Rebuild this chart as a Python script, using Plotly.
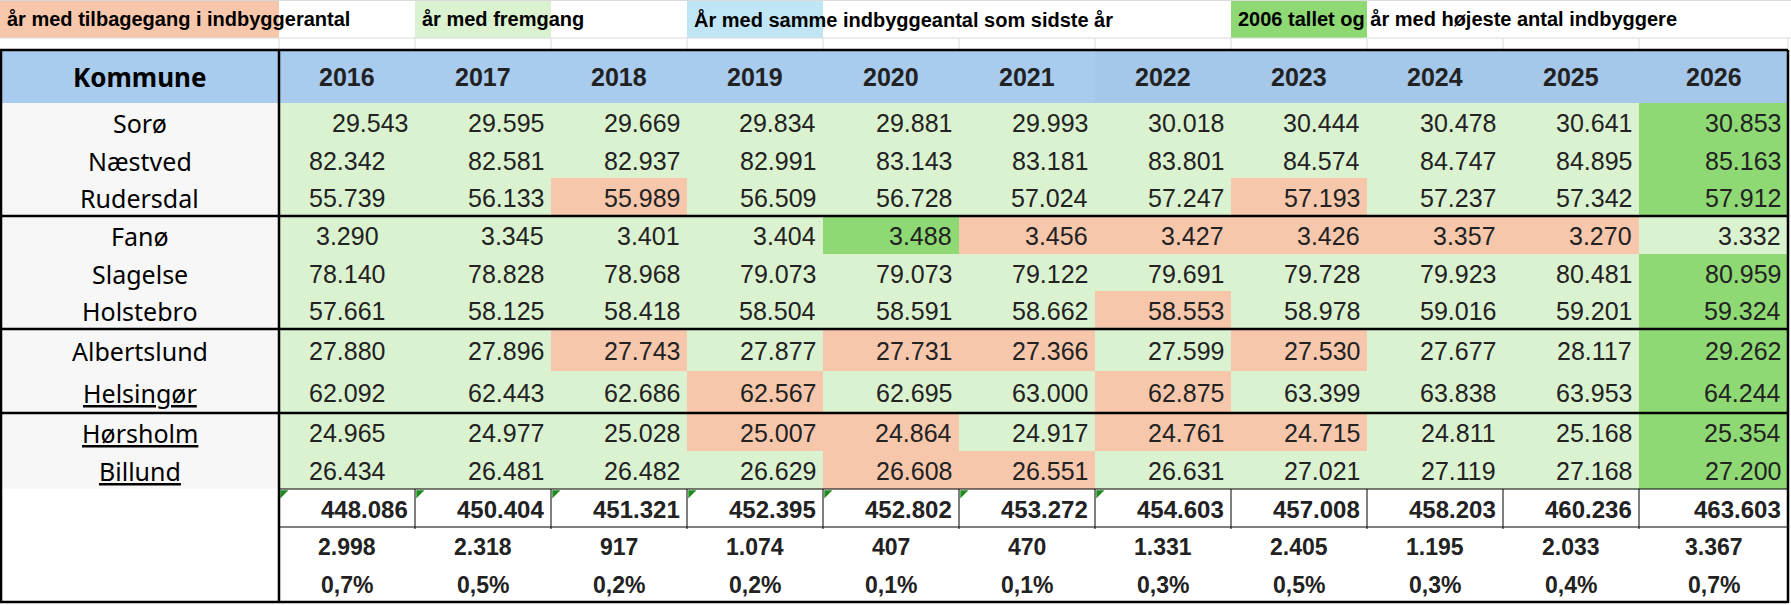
import plotly.graph_objects as go

years = [2016, 2017, 2018, 2019, 2020, 2021, 2022, 2023, 2024, 2025, 2026]
kommuner = ["Sorø", "Næstved", "Rudersdal", "Fanø", "Slagelse", "Holstebro",
            "Albertslund", "Helsingør", "Hørsholm", "Billund"]
linked = ["Helsingør", "Hørsholm", "Billund"]   # underlined names

soroe = [29543, 29595, 29669, 29834, 29881, 29993, 30018, 30444, 30478, 30641, 30853]
naestved = [82342, 82581, 82937, 82991, 83143, 83181, 83801, 84574, 84747, 84895, 85163]
rudersdal = [55739, 56133, 55989, 56509, 56728, 57024, 57247, 57193, 57237, 57342, 57912]
fanoe = [3290, 3345, 3401, 3404, 3488, 3456, 3427, 3426, 3357, 3270, 3332]
slagelse = [78140, 78828, 78968, 79073, 79073, 79122, 79691, 79728, 79923, 80481, 80959]
holstebro = [57661, 58125, 58418, 58504, 58591, 58662, 58553, 58978, 59016, 59201, 59324]
albertslund = [27880, 27896, 27743, 27877, 27731, 27366, 27599, 27530, 27677, 28117, 29262]
helsingoer = [62092, 62443, 62686, 62567, 62695, 63000, 62875, 63399, 63838, 63953, 64244]
hoersholm = [24965, 24977, 25028, 25007, 24864, 24917, 24761, 24715, 24811, 25168, 25354]
billund = [26434, 26481, 26482, 26629, 26608, 26551, 26631, 27021, 27119, 27168, 27200]

# cell marking: G = fremgang, R = tilbagegang, H = højeste antal
status_soroe = "GGGGGGGGGGH"
status_naestved = "GGGGGGGGGGH"
status_rudersdal = "GGRGGGGRGGH"
status_fanoe = "GGGGHRRRRRG"
status_slagelse = "GGGGGGGGGGH"
status_holstebro = "GGGGGGRGGGH"
status_albertslund = "GGRGRRGRGGH"
status_helsingoer = "GGGRGGRGGGH"
status_hoersholm = "GGGRRGRRGGH"
status_billund = "GGGGRRGGGGH"

totals = [448086, 450404, 451321, 452395, 452802, 453272, 454603, 457008, 458203, 460236, 463603]
changes = [2998, 2318, 917, 1074, 407, 470, 1331, 2405, 1195, 2033, 3367]
pct = ["0,7%", "0,5%", "0,2%", "0,2%", "0,1%", "0,1%", "0,3%", "0,5%", "0,3%", "0,4%", "0,7%"]
flagged_totals = [2016, 2017, 2018, 2019, 2020, 2021, 2022]   # green corner marks

legend_labels = ["år med tilbagegang i indbyggerantal", "år med fremgang",
                 "År med samme indbyggeantal som sidste år",
                 "2006 tallet og år med højeste antal indbyggere"]
legend_codes = ["R", "G", "S", "H"]

values = [soroe, naestved, rudersdal, fanoe, slagelse, holstebro,
          albertslund, helsingoer, hoersholm, billund]
status = [status_soroe, status_naestved, status_rudersdal, status_fanoe, status_slagelse,
          status_holstebro, status_albertslund, status_helsingoer, status_hoersholm, status_billund]

# --- layout of the sheet (pixels) ---
W, H = 1791, 605
KOM_W = 279
COL_W = [136] * 10 + [149]
LEGEND_H, GAP_H, HEAD_H = 38, 12, 53
ROW_H = [37.7, 37.7, 37.6, 37.7, 37.7, 37.6, 42, 42, 38, 38]
FOOT_H = [38, 38, 38]
GROUP_ENDS = [3, 6, 8]          # thick line after these data rows
LEGEND_COLS = [0, 2, 4, 8]      # sheet column that holds each legend swatch

colors = {
    "W": "#FFFFFF", "R": "#F7C7AC", "G": "#DAF2D0", "H": "#8ED973",
    "S": "#C0E6F5", "K": "#F7F7F7", "B": "#A9CCEE", "B2": "#A5C7E9",
}
codes = list(colors)

x_edges = [0, KOM_W]
for w in COL_W:
    x_edges.append(x_edges[-1] + w)
y_edges = [0, LEGEND_H, LEGEND_H + GAP_H, LEGEND_H + GAP_H + HEAD_H]
for h in ROW_H + FOOT_H:
    y_edges.append(y_edges[-1] + h)

ncol = len(x_edges) - 1
top, bottom, right = y_edges[2], y_edges[-1], x_edges[-1]


def mid(a, i):
    return (a[i] + a[i + 1]) / 2


def fmt(v):
    return f"{v:,}".replace(",", ".")


# --- cell fills as a categorical heatmap ---
grid = []
legend_row = ["W"] * ncol
for c, code in zip(LEGEND_COLS, legend_codes):
    legend_row[c] = code
grid.append(legend_row)
grid.append(["W"] * ncol)
grid.append(["B"] + ["B" if y < 2022 else "B2" for y in years])
for st in status:
    grid.append(["K"] + list(st))
for _ in FOOT_H:
    grid.append(["W"] * ncol)

z = [[codes.index(c) for c in row] for row in grid]
n = len(codes)
scale = []
for i, c in enumerate(codes):
    scale += [[i / n, colors[c]], [(i + 1) / n, colors[c]]]

fig = go.Figure(go.Heatmap(
    x=x_edges, y=y_edges, z=z, colorscale=scale, zmin=-0.5, zmax=n - 0.5,
    showscale=False, hoverinfo="skip",
))

# green error-indicator corners on the totals row
tri_x = [x_edges[years.index(y) + 1] + 4 for y in flagged_totals]
fig.add_trace(go.Scatter(
    x=tri_x, y=[y_edges[-4] + 4] * len(tri_x), mode="markers", hoverinfo="skip",
    marker=dict(symbol="triangle-nw", size=9, color="#1F8A1F", line_width=0),
))

# --- texts ---
NUM = "Liberation Sans, Arial, sans-serif"
NAME = "Noto Sans, Open Sans, sans-serif"
NARROW = "Liberation Sans Narrow, Arial Narrow, Liberation Sans, sans-serif"
ann = []


def text(x, y, s, size, family, anchor="center", bold=False, color="#222222"):
    ann.append(dict(x=x, y=y, text=s, xanchor=anchor, yanchor="middle", showarrow=False,
                    font=dict(size=size, family=family, color=color,
                              weight="bold" if bold else "normal")))


for label, c in zip(legend_labels, LEGEND_COLS):
    text(x_edges[c] + 5, mid(y_edges, 0), label, 20, NARROW, "left", True, "#000000")

text(mid(x_edges, 0), mid(y_edges, 2), "Kommune", 26, NAME, bold=True, color="#000000")
for j, y in enumerate(years):
    text(mid(x_edges, j + 1), mid(y_edges, 2), str(y), 25, NUM, bold=True)

for i, name in enumerate(kommuner):
    r = i + 3
    label = f"<u>{name}</u>" if name in linked else name
    text(mid(x_edges, 0), mid(y_edges, r) + 1, label, 25, NAME, color="#000000")
    for j, v in enumerate(values[i]):
        if j == 0 and i > 0:
            text(mid(x_edges, 1), mid(y_edges, r) + 1, fmt(v), 25, NUM)
        else:
            text(x_edges[j + 2] - 5, mid(y_edges, r) + 1, fmt(v), 25, NUM, "right")

r_tot = len(y_edges) - 4
for j in range(len(years)):
    text(x_edges[j + 2] - 5, mid(y_edges, r_tot) + 1, fmt(totals[j]), 24, NUM, "right", True)
    text(mid(x_edges, j + 1), mid(y_edges, r_tot + 1) + 1, fmt(changes[j]), 23, NUM, bold=True)
    text(mid(x_edges, j + 1), mid(y_edges, r_tot + 2) + 1, pct[j], 23, NUM, bold=True)

# --- borders and sheet gridlines ---
shapes = []


def line(x0, y0, x1, y1, width, color="#000000"):
    shapes.append(dict(type="line", x0=x0, y0=y0, x1=x1, y1=y1, layer="above",
                       line=dict(color=color, width=width)))


GRID = "#DADADA"
line(0, 0.5, W, 0.5, 1, GRID)
line(0, y_edges[1], W, y_edges[1], 1, GRID)
for xe in x_edges[1:]:
    line(xe, y_edges[1], xe, top, 1, GRID)

# totals row boxes
yt0, yt1 = y_edges[r_tot], y_edges[r_tot + 1]
line(KOM_W, yt0, right, yt0, 1)
line(KOM_W, yt1, right, yt1, 1)
for xe in x_edges[2:-1]:
    line(xe, yt0, xe, yt1 + 2, 1)

for g in GROUP_ENDS:
    yy = y_edges[3 + g]
    line(0, yy, right, yy, 2.5)
line(KOM_W, top, KOM_W, bottom, 2.5)
line(1, top, 1, bottom, 2.5)
line(right, top, right, bottom, 2.5)
line(0, top, right, top, 2.5)
line(0, bottom - 1, right, bottom - 1, 2.5)

fig.update_layout(
    width=W, height=H, margin=dict(l=0, r=0, t=0, b=0),
    paper_bgcolor="white", plot_bgcolor="white",
    xaxis=dict(range=[0, W], visible=False, fixedrange=True),
    yaxis=dict(range=[H, 0], visible=False, fixedrange=True),
    showlegend=False, annotations=ann, shapes=shapes,
)

fig.write_html("out.html", config={"displayModeBar": False},
               post_script="document.body.style.margin='0';")
